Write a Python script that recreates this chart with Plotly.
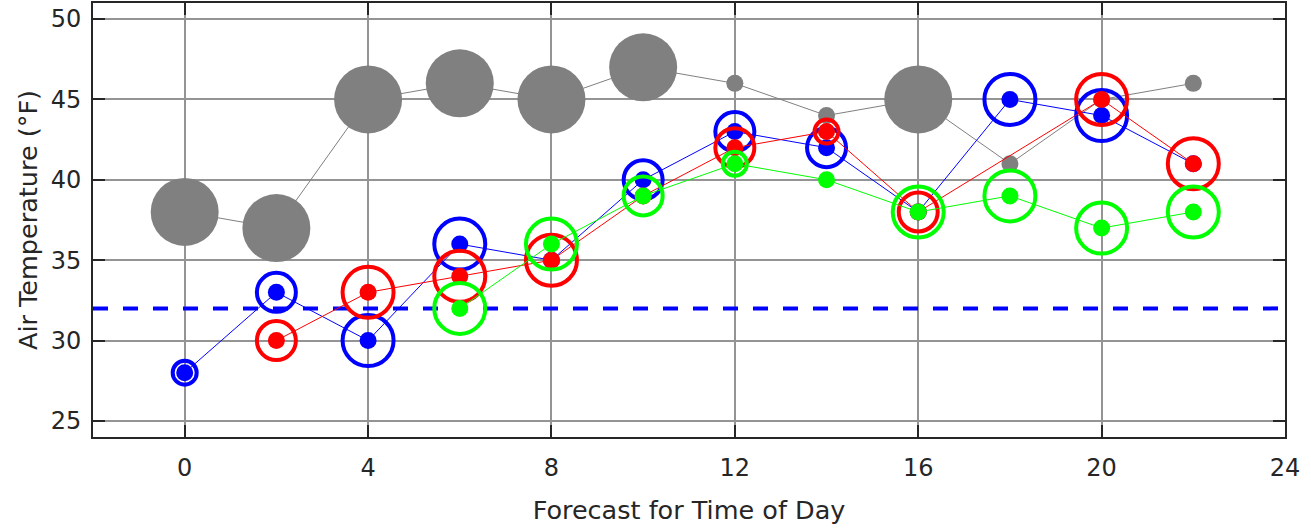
import plotly.graph_objects as go

# ---- data ----
hours = [0, 2, 4, 6, 8, 10, 12, 14, 16, 18, 20, 22]

gray_temp = [38, 37, 45, 46, 45, 47, 46, 44, 45, 41, 45, 46]
gray_big = [1, 1, 1, 1, 1, 1, 0, 0, 1, 0, 0, 0]

blue_hours = [0, 2, 4, 6, 8, 10, 12, 14, 16, 18, 20, 22]
blue_temp = [28, 33, 30, 36, 35, 40, 43, 42, 38, 45, 44, 41]
blue_ring = [1, 2, 3, 3, 0, 2, 2, 2, 0, 3, 3, 0]

red_hours = [2, 4, 6, 8, 10, 12, 14, 16, 20, 22]
red_temp = [30, 33, 34, 35, 39, 42, 43, 38, 45, 41]
red_ring = [2, 3, 3, 3, 0, 2, 1, 2, 3, 3]

green_hours = [6, 8, 10, 12, 14, 16, 18, 20, 22]
green_temp = [32, 36, 39, 41, 40, 38, 39, 37, 38]
green_ring = [3, 3, 2, 1, 0, 3, 3, 3, 3]

freeze_temp = 32
x_range = [-2, 24]
y_range = [24, 51]
x_ticks = [0, 4, 8, 12, 16, 20, 24]
y_ticks = [25, 30, 35, 40, 45, 50]

# ---- style ----
RING_SIZES = {1: 24, 2: 39, 3: 51}
DOT = 17
GRAY_BIG, GRAY_SMALL = 68, 17
TXT = "#262626"
FONT = "DejaVu Sans"

fig = go.Figure()

# gray series
fig.add_trace(go.Scatter(
    x=hours, y=gray_temp, mode="lines+markers",
    line=dict(color="#808080", width=1),
    marker=dict(color="#808080", size=[GRAY_BIG if b else GRAY_SMALL for b in gray_big],
                line=dict(width=0), opacity=1),
    hoverinfo="skip", showlegend=False))

# freezing line
fig.add_trace(go.Scatter(
    x=x_range, y=[freeze_temp, freeze_temp], mode="lines",
    line=dict(color="#0000FF", width=4, dash="15px,15px"),
    hoverinfo="skip", showlegend=False))


def add_series(xs, ys, rings, color):
    fig.add_trace(go.Scatter(
        x=xs, y=ys, mode="lines+markers",
        line=dict(color=color, width=1),
        marker=dict(color=color, size=DOT, line=dict(width=0), opacity=1),
        hoverinfo="skip", showlegend=False))
    rx = [x for x, r in zip(xs, rings) if r > 0]
    ry = [y for y, r in zip(ys, rings) if r > 0]
    rs = [RING_SIZES[r] for r in rings if r > 0]
    fig.add_trace(go.Scatter(
        x=rx, y=ry, mode="markers",
        marker=dict(symbol="circle-open", size=rs, color=color, opacity=1,
                    line=dict(color=color, width=4)),
        hoverinfo="skip", showlegend=False))


add_series(blue_hours, blue_temp, blue_ring, "#0000FF")
add_series(red_hours, red_temp, red_ring, "#FF0000")
add_series(green_hours, green_temp, green_ring, "#00FF00")

axis_common = dict(
    showgrid=True, gridcolor="rgb(148,148,148)", gridwidth=2,
    zeroline=False, showline=True, linecolor=TXT, linewidth=2,
    mirror="allticks", ticks="inside", ticklen=12, tickwidth=2, tickcolor=TXT,
    tickfont=dict(family=FONT, size=24, color=TXT), automargin=False,
)

fig.update_layout(
    width=1311, height=531,
    margin=dict(l=93, r=26, t=3, b=94, autoexpand=False),
    paper_bgcolor="white", plot_bgcolor="white",
    xaxis=dict(range=x_range, tickvals=x_ticks, ticklabelstandoff=8,
               title=dict(text="Forecast for Time of Day",
                          font=dict(family=FONT, size=25.5, color=TXT), standoff=20),
               **axis_common),
    yaxis=dict(range=y_range, tickvals=y_ticks, ticklabelstandoff=5,
               title=dict(text="Air Temperature (°F)",
                          font=dict(family=FONT, size=25.5, color=TXT), standoff=6),
               **axis_common),
)

fig.write_html("out.html", config={"displayModeBar": False},
               post_script="document.body.style.margin='0';document.body.style.overflow='hidden';")
